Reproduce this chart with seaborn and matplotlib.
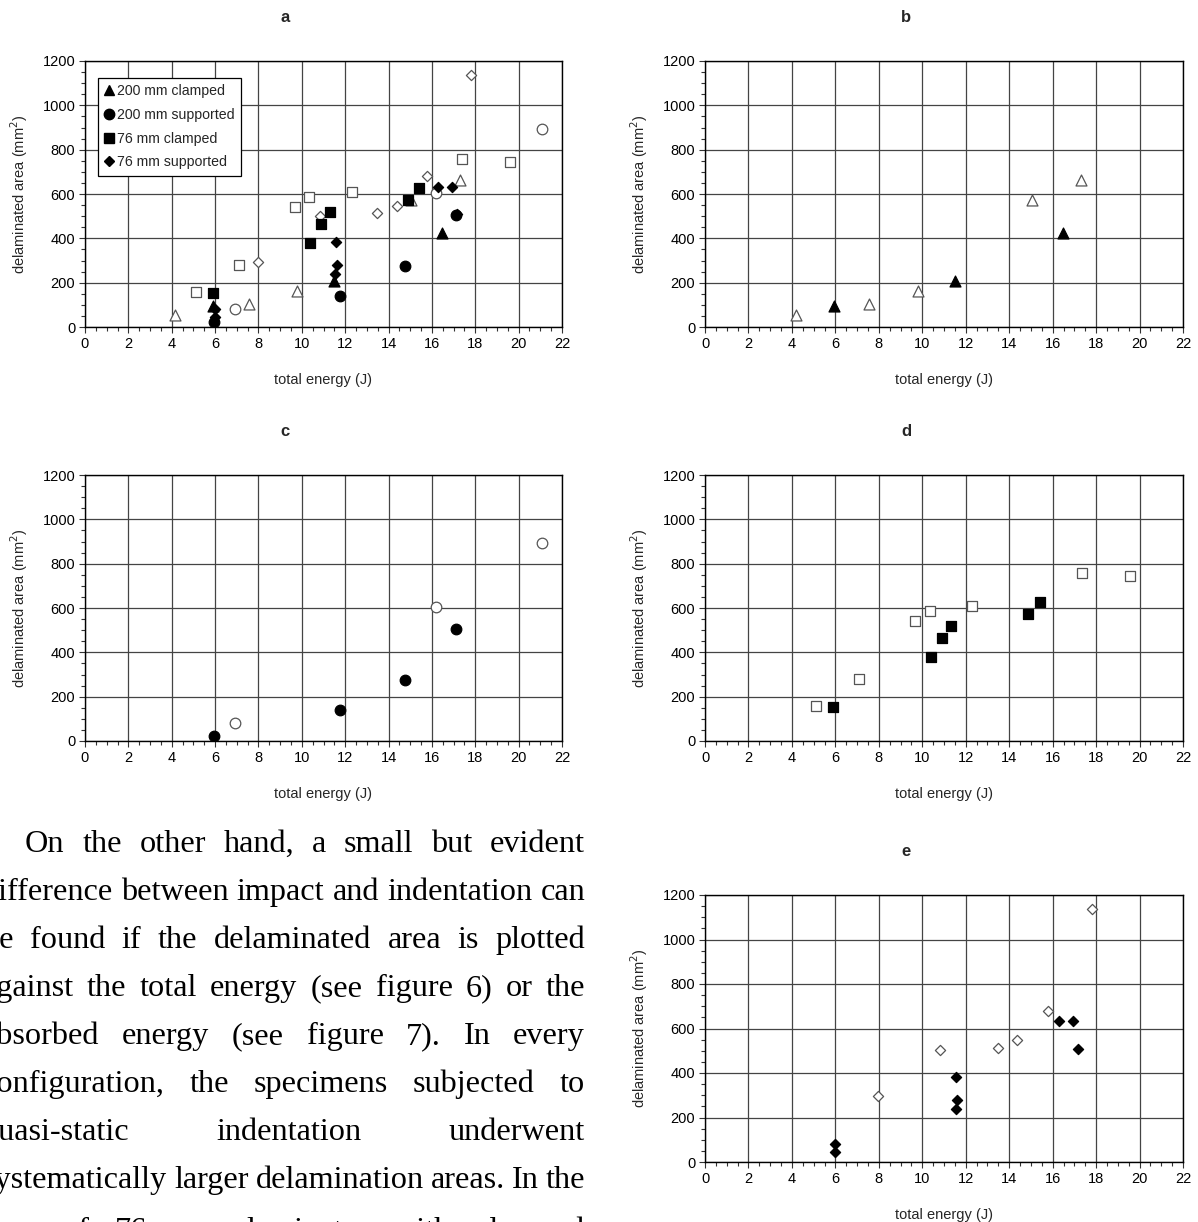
import matplotlib
matplotlib.use('Agg')
import matplotlib.pyplot as plt
import seaborn as sns
from matplotlib.lines import Line2D
from matplotlib.ticker import MultipleLocator

# ---------------- data (total energy J, delaminated area mm^2) ----------------
tri_open_x = [4.17, 7.56, 9.8, 15.05, 17.3]
tri_open_y = [54, 105, 162, 573, 663]
tri_fill_x = [5.92, 11.5, 16.47]
tri_fill_y = [93, 208, 426]

circ_open_x = [6.93, 16.19, 21.09]
circ_open_y = [81, 603, 892]
circ_fill_x = [5.93, 11.75, 14.78, 17.12]
circ_fill_y = [21, 140, 275, 504]

sq_open_x = [5.12, 7.09, 9.67, 10.35, 12.3, 17.37, 19.58]
sq_open_y = [159, 281, 541, 588, 610, 759, 743]
sq_fill_x = [5.89, 10.38, 10.89, 11.3, 14.88, 15.42]
sq_fill_y = [152, 377, 466, 519, 571, 625]

dia_open_x = [7.97, 10.82, 13.49, 14.37, 15.79, 17.79]
dia_open_y = [295, 502, 514, 547, 680, 1139]
dia_fill_x = [5.99, 5.99, 11.53, 11.62, 11.57, 16.3, 16.93, 17.15]
dia_fill_y = [82, 45, 237, 279, 384, 632, 632, 508]

legend_labels = ["200 mm clamped", "200 mm supported", "76 mm clamped", "76 mm supported"]
x_ticks = list(range(0, 23, 2))
y_ticks = list(range(0, 1201, 200))

paragraph = [
    "On the other hand, a small but evident",
    "difference between impact and indentation can",
    "be found if the delaminated area is plotted",
    "against the total energy (see figure 6) or the",
    "absorbed energy (see figure 7). In every",
    "configuration, the specimens subjected to",
    "quasi-static indentation underwent",
    "systematically larger delamination areas. In the",
    "case of 76 mm laminates with clamped",
]

# ---------------- figure ----------------
W, H, DPI = 1198, 1222, 100
sns.set_theme(style='white')
plt.rcParams['font.family'] = ['Liberation Sans', 'DejaVu Sans']
plt.rcParams['axes.unicode_minus'] = False

fig = plt.figure(figsize=(W / DPI, H / DPI), dpi=DPI)
fig.patch.set_facecolor('white')


def rect(l, r, t, b):
    return [l / W, 1 - b / H, (r - l) / W, (b - t) / H]


OPEN_EC = '#555555'
markers = {
    'tri': ('^', 62),
    'circ': ('o', 58),
    'sq': ('s', 48),
    'dia': ('D', 27),
}
series = {
    'tri': (tri_open_x, tri_open_y, tri_fill_x, tri_fill_y),
    'circ': (circ_open_x, circ_open_y, circ_fill_x, circ_fill_y),
    'sq': (sq_open_x, sq_open_y, sq_fill_x, sq_fill_y),
    'dia': (dia_open_x, dia_open_y, dia_fill_x, dia_fill_y),
}


def draw(ax, key):
    m, s = markers[key]
    ox, oy, fx, fy = series[key]
    sns.scatterplot(x=ox, y=oy, marker=m, s=s, color='white', edgecolor=OPEN_EC,
                    linewidth=0.9, ax=ax, zorder=3)
    sns.scatterplot(x=fx, y=fy, marker=m, s=s, color='black', edgecolor='black',
                    linewidth=0.9, ax=ax, zorder=4)


def style(ax):
    ax.set_xlim(0, 22)
    ax.set_ylim(0, 1200)
    ax.set_xticks(x_ticks)
    ax.set_yticks(y_ticks)
    ax.xaxis.set_minor_locator(MultipleLocator(0.5))
    ax.yaxis.set_minor_locator(MultipleLocator(50))
    ax.grid(True, which='major', color='#444444', linewidth=0.9)
    ax.set_axisbelow(True)
    for sp in ax.spines.values():
        sp.set_color('black')
        sp.set_linewidth(1.0)
        sp.set_visible(True)
    ax.tick_params(which='both', direction='out', color='#333333', width=0.8,
                   labelsize=10.5, labelcolor='black', bottom=True, left=True)
    ax.tick_params(which='major', length=4, pad=3)
    ax.tick_params(which='minor', length=3)
    ax.set_xlabel('total energy (J)', fontsize=10.5)
    ax.set_ylabel('delaminated area (mm$^2$)', fontsize=10.5)
    ax.xaxis.label.set_va('center')
    ax.yaxis.label.set_va('center')
    ax.xaxis.set_label_coords(0.5, -0.2)
    ax.yaxis.set_label_coords(-0.138, 0.5)


panels = {
    'a': ((85, 562, 61, 327), ['tri', 'circ', 'sq', 'dia'], (285, 18)),
    'b': ((705, 1183, 61, 327), ['tri'], (906, 18)),
    'c': ((85, 562, 475, 741), ['circ'], (285, 431)),
    'd': ((705, 1183, 475, 741), ['sq'], (906, 431)),
    'e': ((705, 1183, 895, 1162), ['dia'], (906, 851)),
}

axes = {}
for name, (r, keys, tpos) in panels.items():
    ax = fig.add_axes(rect(*r))
    ax.set_facecolor('white')
    for k in keys:
        draw(ax, k)
    style(ax)
    fig.text(tpos[0] / W, 1 - tpos[1] / H, name, fontsize=12, fontweight='bold',
             ha='center', va='center')
    axes[name] = ax

# legend on panel a
handles = [Line2D([], [], marker=markers[k][0], color='black', linestyle='None',
                  markersize=(7.5 if k != 'dia' else 5.6))
           for k in ['tri', 'circ', 'sq', 'dia']]
axa = axes['a']
leg = axa.legend(handles, legend_labels, loc='upper left',
                 bbox_to_anchor=(13 / 477, 1 - 17 / 266), borderaxespad=0,
                 fontsize=10.2, frameon=True, fancybox=False, shadow=False,
                 handlelength=0.7, handletextpad=0.2, labelspacing=0.68,
                 borderpad=0.45, framealpha=1)
leg.get_frame().set_edgecolor('black')
leg.get_frame().set_linewidth(0.9)

# ---------------- justified paragraph text ----------------
rend = fig.canvas.get_renderer()
SERIF = 'Liberation Serif'


def text_width(s, size_pt):
    t = fig.text(0, 0, s, fontsize=size_pt, family=SERIF)
    w = t.get_window_extent(rend).width
    t.remove()
    return w


R = 585.0
k = text_width(paragraph[1], 72) / 100.0  # width per px of font size
F = 586.0 / (k - 0.5)
L = -0.5 * F - 1.0
size_pt = F * 72.0 / DPI
indent = 25.0 - L

baselines = [852 + 48 * i for i in range(len(paragraph) - 1)] + [1239]
for i, (line, yb) in enumerate(zip(paragraph, baselines)):
    words = line.split(' ')
    x0 = L + (indent if i == 0 else 0.0)
    widths = [text_width(w, size_pt) for w in words]
    gap = (R - x0 - sum(widths)) / (len(words) - 1)
    x = x0
    for w, ww in zip(words, widths):
        fig.text(x / W, 1 - yb / H, w, fontsize=size_pt, family=SERIF,
                 ha='left', va='baseline', color='black')
        x += ww + gap

fig.savefig('out.png', dpi=DPI, facecolor='white')
